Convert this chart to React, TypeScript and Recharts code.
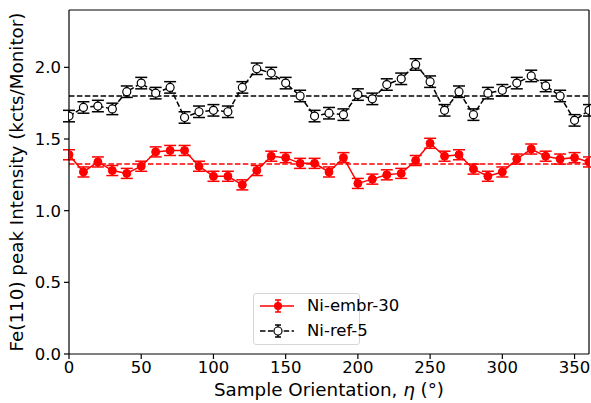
import React from "react";
import {
  ComposedChart,
  Line,
  XAxis,
  YAxis,
  ErrorBar,
  ReferenceLine,
} from "recharts";

const angles = [
  0, 10, 20, 30, 40, 50, 60, 70, 80, 90, 100, 110, 120, 130, 140, 150, 160, 170, 180,
  190, 200, 210, 220, 230, 240, 250, 260, 270, 280, 290, 300, 310, 320, 330, 340, 350, 360,
];

const embrValues = [
  1.39, 1.27, 1.34, 1.28, 1.26, 1.31, 1.41, 1.42, 1.42, 1.31, 1.24, 1.24, 1.18, 1.28, 1.38,
  1.37, 1.33, 1.33, 1.27, 1.37, 1.19, 1.22, 1.25, 1.26, 1.35, 1.47, 1.38, 1.39, 1.29, 1.24,
  1.27, 1.36, 1.43, 1.38, 1.36, 1.37, 1.34,
];

const refValues = [
  1.66, 1.72, 1.73, 1.71, 1.83, 1.89, 1.82, 1.86, 1.65, 1.69, 1.7, 1.69, 1.86, 1.99, 1.96,
  1.89, 1.8, 1.66, 1.68, 1.67, 1.81, 1.78, 1.88, 1.92, 2.02, 1.9, 1.7, 1.83, 1.67, 1.82,
  1.84, 1.89, 1.94, 1.87, 1.8, 1.63, 1.7,
];

// errors are about the same everywhere
const embrErr = 0.035;
const refErr = 0.04;

const embrMean = 1.325;
const refMean = 1.8;

const xTicks = [0, 50, 100, 150, 200, 250, 300, 350];
const yTicks = [0, 0.5, 1.0, 1.5, 2.0];

const FONT = "'DejaVu Sans', sans-serif";
const TICK_SIZE = 16.5;
const LABEL_SIZE = 18.3;

const data = angles.map((a, i) => ({
  angle: a,
  embr: embrValues[i],
  embrErr,
  ref: refValues[i],
  refErr,
}));

function LegendBox() {
  return (
    <div
      style={{
        position: "absolute",
        left: 253,
        top: 293,
        width: 107,
        height: 52,
        border: "1px solid #d6d6d6",
        borderRadius: 3,
        background: "rgba(255,255,255,0.8)",
        boxSizing: "border-box",
        fontFamily: FONT,
        fontSize: TICK_SIZE,
        color: "#000",
        whiteSpace: "nowrap",
      }}
    >
      <svg width={107} height={52} style={{ position: "absolute", left: 0, top: 0 }}>
        <line x1={6} x2={40} y1={12} y2={12} stroke="red" strokeWidth={1.5} />
        <line x1={24} x2={24} y1={6} y2={18} stroke="red" strokeWidth={1.5} />
        <line x1={21} x2={27} y1={6} y2={6} stroke="red" strokeWidth={1.5} />
        <line x1={21} x2={27} y1={18} y2={18} stroke="red" strokeWidth={1.5} />
        <circle cx={24} cy={12} r={4} fill="red" />
        <line x1={6} x2={40} y1={37} y2={37} stroke="#000" strokeWidth={1.5} strokeDasharray="5.5 2.4" />
        <line x1={24} x2={24} y1={31} y2={43} stroke="#000" strokeWidth={1.5} />
        <line x1={21} x2={27} y1={31} y2={31} stroke="#000" strokeWidth={1.5} />
        <line x1={21} x2={27} y1={43} y2={43} stroke="#000" strokeWidth={1.5} />
        <circle cx={24} cy={37} r={4} fill="#fff" stroke="#000" strokeWidth={1.2} />
      </svg>
      <div style={{ position: "absolute", left: 53, top: 2, lineHeight: "20px" }}>Ni-embr-30</div>
      <div style={{ position: "absolute", left: 53, top: 27, lineHeight: "20px" }}>Ni-ref-5</div>
    </div>
  );
}

const YLabel = (props: any) => {
  const { viewBox } = props;
  const cy = viewBox.y + viewBox.height / 2;
  return (
    <text
      x={16}
      y={cy}
      transform={`rotate(-90, 16, ${cy})`}
      textAnchor="middle"
      dominantBaseline="central"
      fill="#000"
      fontSize={LABEL_SIZE}
      fontFamily={FONT}
    >
      Fe(110) peak Intensity (kcts/Monitor)
    </text>
  );
};

const XLabel = (props: any) => {
  const { viewBox } = props;
  const cx = viewBox.x + viewBox.width / 2;
  return (
    <text x={cx} y={396} textAnchor="middle" fill="#000" fontSize={LABEL_SIZE} fontFamily={FONT}>
      Sample Orientation, <tspan fontStyle="italic">η</tspan> (°)
    </text>
  );
};

export default function App() {
  return (
    <div style={{ position: "fixed", left: 0, top: 0, width: 591, height: 403, background: "#fff", overflow: "hidden" }}>
      <style>{"html,body{margin:0;overflow:hidden}"}</style>
      <ComposedChart
        width={591}
        height={403}
        data={data}
        margin={{ top: 10, right: 2, left: 0, bottom: 0 }}
        style={{ fontFamily: FONT }}
      >
        <XAxis
          dataKey="angle"
          type="number"
          domain={[0, 360]}
          ticks={xTicks}
          allowDataOverflow
          height={49}
          stroke="#000"
          strokeWidth={1.2}
          tickSize={5}
          tickMargin={2}
          tick={{ fill: "#000", fontSize: TICK_SIZE, fontFamily: FONT }}
          label={<XLabel />}
        />
        <YAxis
          type="number"
          domain={[0, 2.4]}
          ticks={yTicks}
          allowDataOverflow
          width={69}
          stroke="#000"
          strokeWidth={1.2}
          tickSize={5}
          tickMargin={3}
          tickFormatter={(v: number) => v.toFixed(1)}
          tick={{ fill: "#000", fontSize: TICK_SIZE, fontFamily: FONT }}
          label={<YLabel />}
        />
        <ReferenceLine y={2.4} stroke="#000" strokeWidth={1.2} />
        <ReferenceLine x={360} stroke="#000" strokeWidth={1.2} />
        <ReferenceLine y={embrMean} stroke="red" strokeWidth={1.5} strokeDasharray="5.5 2.4" />
        <ReferenceLine y={refMean} stroke="#000" strokeWidth={1.5} strokeDasharray="5.5 2.4" />
        <Line
          dataKey="embr"
          stroke="red"
          strokeWidth={1.5}
          dot={{ r: 4, fill: "red", stroke: "red", strokeWidth: 1, clipDot: true }}
          isAnimationActive={false}
        >
          <ErrorBar dataKey="embrErr" width={6} stroke="red" strokeWidth={1.5} direction="y" isAnimationActive={false} />
        </Line>
        <Line
          dataKey="ref"
          stroke="#000"
          strokeWidth={1.5}
          strokeDasharray="5.5 2.4"
          dot={{ r: 4, fill: "#fff", stroke: "#000", strokeWidth: 1.2, strokeDasharray: "", clipDot: true }}
          isAnimationActive={false}
        >
          <ErrorBar dataKey="refErr" width={6} stroke="#000" strokeWidth={1.5} direction="y" isAnimationActive={false} />
        </Line>
      </ComposedChart>
      <LegendBox />
    </div>
  );
}
